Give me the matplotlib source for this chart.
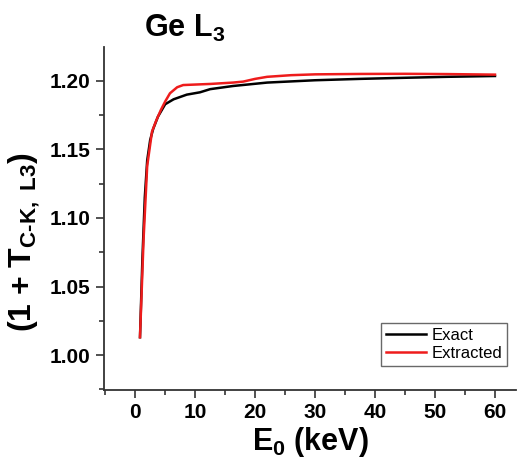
import numpy as np
import matplotlib
matplotlib.use("Agg")
import matplotlib.pyplot as plt
from matplotlib.ticker import MultipleLocator

plt.rcParams['font.family'] = ['Liberation Sans', 'DejaVu Sans']
plt.rcParams['mathtext.fontset'] = 'custom'
plt.rcParams['mathtext.rm'] = 'Liberation Sans:bold'
plt.rcParams['mathtext.it'] = 'Liberation Sans:bold'
plt.rcParams['mathtext.bf'] = 'Liberation Sans:bold'
plt.rcParams['mathtext.default'] = 'rm'

# exact curve
e_exact = [0.8, 1.2, 1.6, 2.0, 2.5, 3.0, 3.8, 5.0, 6.4, 8.6, 10.8, 12.5,
           16.3, 22, 30, 37.5, 45, 52, 60]
t_exact = [1.013, 1.070, 1.115, 1.142, 1.157, 1.165, 1.174, 1.183, 1.1866,
           1.190, 1.1917, 1.194, 1.1963, 1.1988, 1.2005, 1.2015, 1.2023,
           1.2030, 1.2036]

# extracted curve
e_extr = [0.8, 1.4, 2.0, 2.8, 3.5, 4.3, 5.0, 5.8, 7.0, 8.0, 10.8, 12.5,
          16.3, 18, 20, 22, 26, 30, 37.5, 45, 52, 60]
t_extr = [1.013, 1.085, 1.138, 1.163, 1.171, 1.179, 1.185, 1.191, 1.1954,
          1.197, 1.1975, 1.1978, 1.1988, 1.1995, 1.2015, 1.203, 1.2042,
          1.2048, 1.2051, 1.2052, 1.2050, 1.2046]

fig = plt.figure(figsize=(5.17, 4.58), dpi=100)
ax = fig.add_axes([0.2012, 0.1485, 0.7968, 0.749])

ax.plot(e_exact, t_exact, color='black', lw=1.8, label='Exact')
ax.plot(e_extr, t_extr, color='#ee1c1c', lw=1.8, label='Extracted')

ax.set_xlim(-5.2, 63.5)
ax.set_ylim(0.9745, 1.2248)

ax.spines['top'].set_visible(False)
ax.spines['right'].set_visible(False)
for s in ['left', 'bottom']:
    ax.spines[s].set_color('#333333')
    ax.spines[s].set_linewidth(1.3)

ax.xaxis.set_major_locator(MultipleLocator(10))
ax.xaxis.set_minor_locator(MultipleLocator(5))
ax.yaxis.set_major_locator(MultipleLocator(0.05))
ax.yaxis.set_minor_locator(MultipleLocator(0.025))
ax.tick_params(which='major', direction='out', length=6, width=1.2,
               color='#333333', labelsize=15)
ax.tick_params(which='minor', direction='out', length=3.5, width=1.2,
               color='#333333')
ax.set_yticks(ax.get_yticks())
ax.set_yticklabels(['%.2f' % v for v in ax.get_yticks()])
for lab in ax.get_xticklabels() + ax.get_yticklabels():
    lab.set_fontweight('bold')
ax.set_ylim(0.9745, 1.2248)

ax.set_xlabel('E$_0$ (keV)', fontsize=22, fontweight='bold', labelpad=2)
ax.set_ylabel(r'(1 + T$_{\mathrm{C\text{-}K,\ L3}}$)', fontsize=23,
              fontweight='bold')
ax.yaxis.set_label_coords(-0.15, 0.43)

fig.text(0.358, 0.92, 'Ge L$_3$', fontsize=22, fontweight='bold',
         ha='center', va='baseline')

leg = ax.legend(loc='lower right', bbox_to_anchor=(507 / 517, 1 - 366 / 458),
                bbox_transform=fig.transFigure, fontsize=12, frameon=True,
                fancybox=False, edgecolor='#444444', handlelength=2.4,
                borderpad=0.3, labelspacing=0.2, handletextpad=0.3,
                borderaxespad=0)
leg.get_frame().set_linewidth(1.0)

fig.savefig('out.png', dpi=100)
